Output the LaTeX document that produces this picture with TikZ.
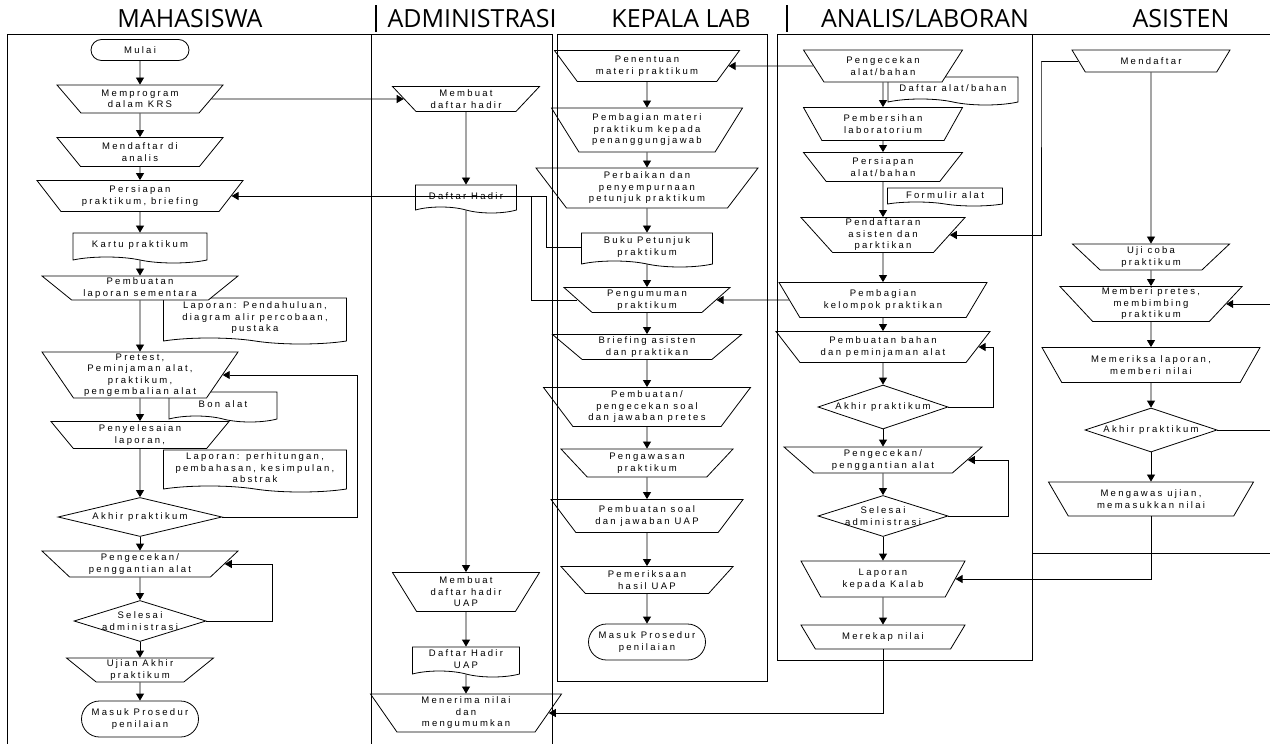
\documentclass[tikz,border=0pt]{standalone}
\usepackage{fontspec}
\setmainfont{Liberation Sans}
\newfontfamily\boxfont[LetterSpace=24]{Liberation Sans}
\newfontfamily\lanefont{Open Sans}
\usetikzlibrary{shapes.geometric,shapes.misc,shapes.symbols,arrows.meta}

\begin{document}
\begin{tikzpicture}[x=1pt,y=-1pt,
    every node/.style={font=\boxfont\fontsize{9.5}{11.5}\selectfont, align=center, inner sep=1pt},
    base/.style={draw, fill=white, line width=0.8pt},
    proses/.style={base, trapezium, trapezium stretches body, shape border rotate=180,
      trapezium left angle=#1, trapezium right angle=#1},
    proses/.default=40,
    dokumen/.style={base, tape, tape bend top=none, tape bend bottom=out and in, tape bend height=6pt},
    mulai/.style={base, rounded rectangle},
    cek/.style={base, diamond},
    garis/.style={line width=0.8pt},
    panah/.style={garis, -{Triangle[length=7pt,width=8pt]}},
    lajur/.style={line width=0.9pt},
    judul/.style={font=\lanefont\fontsize{25}{30}\selectfont, anchor=base}]
  \useasboundingbox (0,0) rectangle (1270,744);

  % judul lajur
  \node[judul] (jmhs) at (190,27.5) {MAHASISWA};
  \node[judul] (jadm) at (472,27.5) {ADMINISTRASI};
  \node[judul] (jkal) at (681,27.5) {KEPALA LAB};
  \node[judul] (jana) at (925,27.5) {ANALIS/LABORAN};
  \node[judul] (jast) at (1181,27.5) {ASISTEN};

  % dokumen pendukung (di belakang)
  \node[dokumen, minimum width=183, minimum height=46] (lap1) at (255,318) {Laporan: Pendahuluan,\\diagram alir percobaan,\\pustaka};
  \node[dokumen, minimum width=108, minimum height=30] (bon) at (223,404) {Bon alat};
  \node[dokumen, minimum width=183, minimum height=42] (lap2) at (255,468) {Laporan: perhitungan,\\pembahasan, kesimpulan,\\abstrak};
  \node[dokumen, minimum width=130, minimum height=28] (dalat) at (953,88) {Daftar alat/bahan};
  \node[dokumen, minimum width=115, minimum height=18, tape bend height=4pt] (formulir) at (945,195) {Formulir alat};

  % MAHASISWA
  \node[mulai, minimum width=100, minimum height=21] (mulai) at (140,50) {Mulai};
  \node[proses=40, minimum width=166, minimum height=28] (memprogram) at (140,99) {Memprogram\\dalam KRS};
  \node[proses=41, minimum width=166, minimum height=29] (mendaftar) at (140,152) {Mendaftar di\\analis};
  \node[proses=43, minimum width=206, minimum height=31] (persiapan) at (140,196) {Persiapan\\praktikum, briefing};
  \node[dokumen, minimum width=134, minimum height=30] (kartu) at (140,245) {Kartu praktikum};
  \node[proses=37, minimum width=196, minimum height=24] (pembuatan) at (140,288) {Pembuatan\\laporan sementara};
  \node[proses=55, minimum width=196, minimum height=46] (pretest) at (140,375) {Pretest,\\Peminjaman alat,\\praktikum,\\pengembalian alat};
  \node[proses=45, minimum width=178, minimum height=27] (penyelesaian) at (140,435) {Penyelesaian\\laporan,};
  \node[cek, minimum width=164, minimum height=39, label=center:Akhir praktikum] (akhir1) at (140,517) {};
  \node[proses=39, minimum width=196, minimum height=26] (cekganti1) at (140,564) {Pengecekan/\\penggantian alat};
  \node[cek, minimum width=132, minimum height=41, label={center:{Selesai\\administrasi}}] (selesai1) at (140,621) {};
  \node[proses=37, minimum width=147, minimum height=24] (ujian) at (140,670) {Ujian Akhir\\praktikum};
  \node[mulai, minimum width=119, minimum height=36, label={center:{Masuk Prosedur\\penilaian}}] (masuk1) at (140,719) {};

  % ADMINISTRASI
  \node[proses=41, minimum width=147, minimum height=25] (membuat) at (466,99) {Membuat\\daftar hadir};
  \node[dokumen, minimum width=101, minimum height=28] (dhadir) at (466,196) {Daftar Hadir};
  \node[proses=53, minimum width=147, minimum height=39] (membuatuap) at (466,592) {Membuat\\daftar hadir\\UAP};
  \node[dokumen, minimum width=107, minimum height=30] (dhadiruap) at (466,659) {Daftar Hadir\\UAP};
  \node[proses=52, minimum width=191, minimum height=38] (menerima) at (466,713) {Menerima nilai\\dan\\mengumumkan};

  % KEPALA LAB
  \node[proses=44, minimum width=185, minimum height=31] (penentuan) at (647,66) {Penentuan\\materi praktikum};
  \node[proses=51, minimum width=191, minimum height=44] (pembagian) at (647,130) {Pembagian materi\\praktikum kepada\\penanggungjawab};
  \node[proses=48, minimum width=222, minimum height=40] (perbaikan) at (647,188) {Perbaikan dan\\penyempurnaan\\petunjuk praktikum};
  \node[dokumen, minimum width=131, minimum height=34] (buku) at (647,247) {Buku Petunjuk\\praktikum};
  \node[proses=38, minimum width=166, minimum height=25] (pengumuman) at (647,300) {Pengumuman\\praktikum};
  \node[proses=37, minimum width=189, minimum height=25] (briefing) at (647,347) {Briefing asisten\\dan praktikan};
  \node[proses=49, minimum width=207, minimum height=39] (soalpretes) at (647,407) {Pembuatan/\\pengecekan soal\\dan jawaban pretes};
  \node[proses=40, minimum width=172, minimum height=28] (pengawasan) at (647,463) {Pengawasan\\praktikum};
  \node[proses=42, minimum width=192, minimum height=33] (soaluap) at (647,516) {Pembuatan soal\\dan jawaban UAP};
  \node[proses=40, minimum width=172, minimum height=27] (pemeriksaan) at (647,580) {Pemeriksaan\\hasil UAP};
  \node[mulai, minimum width=119, minimum height=36, label={center:{Masuk Prosedur\\penilaian}}] (masuk2) at (647,642) {};

  % ANALIS/LABORAN
  \node[proses=45, minimum width=159, minimum height=32] (cekbahan) at (883,66) {Pengecekan\\alat/bahan};
  \node[proses=48, minimum width=159, minimum height=33] (bersih) at (883,124) {Pembersihan\\laboratorium};
  \node[proses=42, minimum width=159, minimum height=29] (siapbahan) at (883,167) {Persiapan\\alat/bahan};
  \node[proses=47, minimum width=164, minimum height=35] (daftarasisten) at (883,235) {Pendaftaran\\asisten dan\\parktikan};
  \node[proses=47, minimum width=208, minimum height=35] (kelompok) at (883,300) {Pembagian\\kelompok praktikan};
  \node[proses=43, minimum width=214, minimum height=31] (bahan) at (883,347) {Pembuatan bahan\\dan peminjaman alat};
  \node[cek, minimum width=130, minimum height=44, label=center:Akhir praktikum] (akhir2) at (883,407) {};
  \node[proses=37, minimum width=198, minimum height=26] (cekganti2) at (883,460) {Pengecekan/\\penggantian alat};
  \node[cek, minimum width=130, minimum height=41, label={center:{Selesai\\administrasi}}] (selesai2) at (883,516) {};
  \node[proses=48, minimum width=164, minimum height=36] (lapkalab) at (883,579) {Laporan\\kepada Kalab};
  \node[proses=37, minimum width=164, minimum height=24] (merekap) at (883,637) {Merekap nilai};

  % ASISTEN
  \node[proses=34, minimum width=158, minimum height=22] (mendaftar2) at (1151,61) {Mendaftar};
  \node[proses=39, minimum width=157, minimum height=26] (ujicoba) at (1151,257) {Uji coba\\praktikum};
  \node[proses=46, minimum width=182, minimum height=35] (memberi) at (1151,304) {Memberi pretes,\\membimbing\\praktikum};
  \node[proses=46, minimum width=218, minimum height=35] (memeriksa) at (1151,365) {Memeriksa laporan,\\memberi nilai};
  \node[cek, minimum width=132, minimum height=44, label=center:Akhir praktikum] (akhir3) at (1151,430) {};
  \node[proses=46, minimum width=205, minimum height=34] (mengawas) at (1151,499) {Mengawas ujian,\\memasukkan nilai};

  % alur dalam lajur
  \foreach \a/\b in {mulai/memprogram, memprogram/mendaftar, mendaftar/persiapan,
      persiapan/kartu, kartu/pembuatan, pembuatan/pretest, pretest/penyelesaian,
      penyelesaian/akhir1, akhir1/cekganti1, cekganti1/selesai1, selesai1/ujian, ujian/masuk1,
      membuat/dhadir, dhadir/membuatuap, membuatuap/dhadiruap, dhadiruap/menerima,
      penentuan/pembagian, pembagian/perbaikan, perbaikan/buku, buku/pengumuman,
      pengumuman/briefing, briefing/soalpretes, soalpretes/pengawasan, pengawasan/soaluap,
      soaluap/pemeriksaan, pemeriksaan/masuk2,
      cekbahan/bersih, bersih/siapbahan, siapbahan/daftarasisten, daftarasisten/kelompok,
      kelompok/bahan, bahan/akhir2, akhir2/cekganti2, cekganti2/selesai2, selesai2/lapkalab,
      lapkalab/merekap,
      mendaftar2/ujicoba, ujicoba/memberi, memberi/memeriksa, memeriksa/akhir3, akhir3/mengawas}
    \draw[panah] (\a) -- (\b);

  % putaran balik
  \draw[panah] (akhir1.east) -- ++(135,0) |- (pretest.east);
  \draw[panah] (selesai1.east) -- ++(66,0) |- (cekganti1.east);
  \draw[panah] (akhir2.east) -- ++(45,0) |- (bahan.east);
  \draw[panah] (selesai2.east) -- ++(60,0) |- (cekganti2.east);
  \draw[panah] (akhir3.east) -- ++(60,0) |- (memberi.east);

  % antar lajur
  \draw[panah] (memprogram.east) -- (membuat.west);
  \draw[panah] (cekbahan.west) -- (penentuan.east);
  \draw[panah] (kelompok.west) -- (pengumuman.east);
  \draw[panah] (buku.west) -- ++(-35,0) |- (persiapan.east);
  \draw[garis] (pengumuman.west) -| ([xshift=14pt]dhadir.east);
  \draw[panah] (mendaftar2.west) -| ([xshift=-110pt]mendaftar2.center) |- (daftarasisten.east);
  \draw[panah] (mengawas.south) |- (lapkalab.east);
  \draw[panah] (merekap.south) |- (menerima.east);

  % garis lajur
  \draw[lajur] (7,744) -- (7,34) -- (552,34);
  \draw[lajur] (371,34) -- (371,744);
  \draw[lajur] (552,34) -- (552,744);
  \draw[lajur] (557,34) rectangle (767,681);
  \draw[lajur] (777,34) rectangle (1032,660);
  \draw[lajur] (1032,34) -- (1270,34);
  \draw[lajur] (1032,553) -- (1270,553);
  \draw[line width=2pt] (376,5) -- (376,32);
  \draw[line width=2pt] (787,5) -- (787,32);
\end{tikzpicture}
\end{document}
